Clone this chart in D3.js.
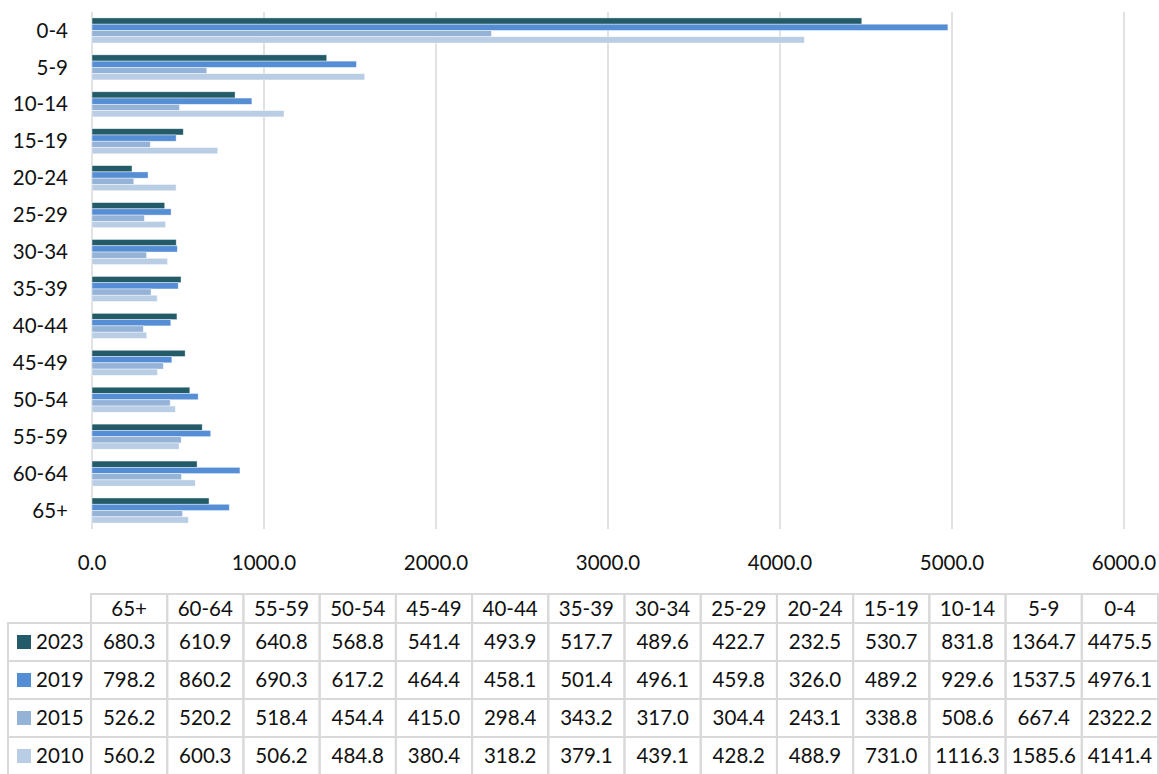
<!DOCTYPE html>
<html lang="en">
<head>
<meta charset="UTF-8">
<title>Age groups</title>
<script src="https://cdn.jsdelivr.net/npm/d3@7"></script>
<style>
  body { margin: 0; background: #fff; }
  svg text { font-family: Lato, "Open Sans", sans-serif; fill: #111; }
</style>
</head>
<body>
<div id="wrapper"></div>
<script>
// table order (as in the data table under the chart)
const categories = ["65+","60-64","55-59","50-54","45-49","40-44","35-39","30-34","25-29","20-24","15-19","10-14","5-9","0-4"];
const years = ["2023","2019","2015","2010"];
const v2023 = [680.3,610.9,640.8,568.8,541.4,493.9,517.7,489.6,422.7,232.5,530.7,831.8,1364.7,4475.5];
const v2019 = [798.2,860.2,690.3,617.2,464.4,458.1,501.4,496.1,459.8,326.0,489.2,929.6,1537.5,4976.1];
const v2015 = [526.2,520.2,518.4,454.4,415.0,298.4,343.2,317.0,304.4,243.1,338.8,508.6,667.4,2322.2];
const v2010 = [560.2,600.3,506.2,484.8,380.4,318.2,379.1,439.1,428.2,488.9,731.0,1116.3,1585.6,4141.4];
const colors = ["#245b68","#558ed5","#95b3d7","#b9cde5"];

const series = [v2023, v2019, v2015, v2010];
const fs = 20.5;

const width = 1159, height = 774;
const svg = d3.select("#wrapper").append("svg")
    .attr("width", width).attr("height", height);

// scales
const x = d3.scaleLinear().domain([0, 6000]).range([92, 1124]);
const y = d3.scaleBand()
    .domain(categories.slice().reverse())
    .range([12, 529])
    .paddingInner(0.32)
    .paddingOuter(0.16);
const ySub = d3.scaleBand().domain(years).range([0, y.bandwidth()]);

// gridlines
svg.append("g")
    .selectAll("line")
    .data(x.ticks(6))
    .join("line")
    .attr("x1", d => x(d)).attr("x2", d => x(d))
    .attr("y1", 12).attr("y2", 529)
    .attr("stroke", "#d9d9d9")
    .attr("stroke-width", 1.5);

// bars
const groups = svg.append("g")
    .selectAll("g")
    .data(categories)
    .join("g")
    .attr("transform", d => `translate(0,${y(d)})`);

groups.selectAll("rect")
    .data((c, i) => years.map((yr, k) => ({ yr, k, v: series[k][i] })))
    .join("rect")
    .attr("x", x(0))
    .attr("y", d => ySub(d.yr))
    .attr("width", d => x(d.v) - x(0))
    .attr("height", ySub.bandwidth())
    .attr("fill", d => colors[d.k])
    .attr("stroke", "#fff")
    .attr("stroke-opacity", 0.6)
    .attr("stroke-width", 0.7);

// category labels
svg.append("g")
    .selectAll("text")
    .data(categories)
    .join("text")
    .attr("x", 68)
    .attr("y", d => y(d) + y.bandwidth() / 2)
    .attr("dy", "0.35em")
    .attr("text-anchor", "end")
    .attr("font-size", fs)
    .text(d => d);

// x tick labels
svg.append("g")
    .selectAll("text")
    .data(x.ticks(6))
    .join("text")
    .attr("x", d => x(d))
    .attr("y", 563)
    .attr("dy", "0.35em")
    .attr("text-anchor", "middle")
    .attr("font-size", fs)
    .text(d3.format(".1f"));

// data table
const col = d3.scaleBand().domain(categories).range([91, 1158]);
const headTop = 594, headH = 29, rowH = 38;
const rowTop = i => headTop + headH + i * rowH;
const tbl = svg.append("g");
const border = "#d9d9d9";

// header cells
tbl.selectAll("rect.head")
    .data(categories)
    .join("rect")
    .attr("class", "head")
    .attr("x", d => col(d)).attr("y", headTop)
    .attr("width", col.bandwidth()).attr("height", headH)
    .attr("fill", "none").attr("stroke", border).attr("stroke-width", 2);

tbl.selectAll("text.head")
    .data(categories)
    .join("text")
    .attr("class", "head")
    .attr("x", d => col(d) + col.bandwidth() / 2)
    .attr("y", headTop + headH / 2)
    .attr("dy", "0.35em")
    .attr("text-anchor", "middle")
    .attr("font-size", fs)
    .text(d => d);

const rows = tbl.selectAll("g.row")
    .data(years)
    .join("g")
    .attr("class", "row")
    .attr("transform", (d, i) => `translate(0,${rowTop(i)})`);

rows.append("rect")
    .attr("x", 8).attr("y", 0)
    .attr("width", 91 - 8).attr("height", rowH)
    .attr("fill", "none").attr("stroke", border).attr("stroke-width", 2);

rows.append("rect")
    .attr("x", 17).attr("y", rowH / 2 - 7)
    .attr("width", 14).attr("height", 14)
    .attr("fill", (d, i) => colors[i]);

rows.append("text")
    .attr("x", 36).attr("y", rowH / 2)
    .attr("dy", "0.35em")
    .attr("font-size", fs)
    .text(d => d);

rows.selectAll("rect.cell")
    .data((yr, k) => categories.map((c, i) => ({ c, v: series[k][i] })))
    .join("rect")
    .attr("class", "cell")
    .attr("x", d => col(d.c)).attr("y", 0)
    .attr("width", col.bandwidth()).attr("height", rowH)
    .attr("fill", "none").attr("stroke", border).attr("stroke-width", 2);

rows.selectAll("text.cell")
    .data((yr, k) => categories.map((c, i) => ({ c, v: series[k][i] })))
    .join("text")
    .attr("class", "cell")
    .attr("x", d => col(d.c) + col.bandwidth() / 2)
    .attr("y", rowH / 2)
    .attr("dy", "0.35em")
    .attr("text-anchor", "middle")
    .attr("font-size", fs)
    .text(d => d3.format(".1f")(d.v));
</script>
</body>
</html>
